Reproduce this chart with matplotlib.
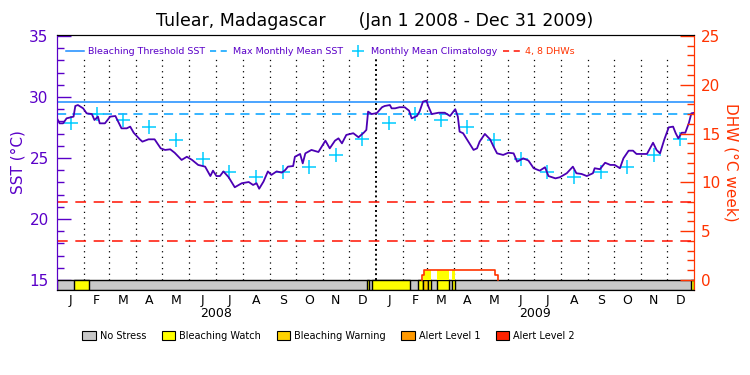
import numpy as np
import matplotlib
matplotlib.use("Agg")
import matplotlib.pyplot as plt
from matplotlib.lines import Line2D
from matplotlib.patches import Patch

# days since 2008-01-01 and daily SST
sst_day = [0, 3, 7, 11, 19, 21, 24, 30, 34, 40, 43, 47, 49, 55, 61, 67, 70, 74, 80, 84,
           88, 95, 98, 105, 112, 119, 124, 130, 135, 143, 149, 155, 162, 170, 176, 179,
           183, 187, 191, 197, 204, 212, 220, 225, 229, 232, 237, 242, 246, 252, 258,
           262, 265, 271, 273, 279, 282, 285, 292, 300, 308, 313, 319, 323, 327, 332,
           340, 346, 352, 355, 357, 361, 367, 373, 376, 382, 384, 388, 393, 399, 404,
           407, 413, 416, 420, 424, 426, 430, 438, 445, 451, 457, 460, 462, 466, 472,
           478, 482, 485, 491, 497, 501, 505, 512, 518, 524, 528, 535, 541, 547, 554,
           560, 564, 572, 577, 585, 592, 596, 602, 608, 615, 617, 623, 629, 635, 640,
           646, 650, 656, 661, 665, 677, 684, 688, 692, 697, 702, 707, 710, 713, 717,
           721, 725, 728, 731]
sst_val = [28.25, 27.84, 27.84, 28.25, 28.39, 29.26, 29.34, 29.07, 28.66, 28.6, 28.11,
           28.39, 27.84, 27.84, 28.39, 28.44, 28.0, 27.43, 27.43, 27.57, 27.07, 26.53,
           26.34, 26.53, 26.53, 25.79, 25.66, 25.71, 25.43, 24.84, 25.1, 24.84, 24.43,
           24.29, 23.52, 23.96, 23.52, 23.52, 23.9, 23.42, 22.6, 22.93, 23.03, 22.79,
           22.93, 22.48, 23.07, 23.9, 23.61, 23.9, 23.8, 24.02, 24.29, 24.34, 25.1,
           25.33, 24.56, 25.38, 25.66, 25.49, 26.42, 25.79, 26.42, 26.61, 26.2, 26.89,
           27.03, 26.7, 27.07, 27.3, 28.8, 28.6, 28.68, 29.16, 29.26, 29.34, 29.07,
           29.07, 29.16, 29.16, 28.88, 28.25, 28.44, 28.8, 29.62, 29.7, 29.26, 28.6,
           28.71, 28.71, 28.44, 29.0, 28.39, 27.16, 27.03, 26.34, 25.66, 25.79, 26.34,
           26.97, 26.53, 25.93, 25.38, 25.25, 25.43, 25.38, 24.7, 24.97, 24.79, 24.16,
           23.96, 24.24, 23.52, 23.33, 23.42, 23.75, 24.29, 23.75, 23.69, 23.52, 23.75,
           24.16, 24.08, 24.61, 24.43, 24.43, 24.16, 24.97, 25.6, 25.6, 25.33, 25.33,
           26.25, 25.66, 25.38, 26.53, 27.51, 27.57, 27.03, 26.61, 27.07, 27.07, 27.84,
           28.66, 28.7]

clim = [27.84, 28.6, 28.08, 27.57, 26.5, 24.89, 23.85, 23.42, 23.85, 24.29, 25.22, 26.58]
mmm = 28.6
threshold = 29.6
dhw_marks = [4, 8]

dhw_day = [419, 419, 421, 503, 506, 506]
dhw_val = [0, 0.5, 1.0, 0.5, 0, 0]

# bleaching alert periods (start day, end day, level)
stress_start = [19.5, 356, 362, 414, 420, 426, 436, 453, 727]
stress_end = [36.7, 358, 405, 420, 426, 429, 450, 457, 731]
stress_level = [1, 1, 1, 1, 2, 1, 1, 1, 1]

level_names = ["No Stress", "Bleaching Watch", "Bleaching Warning", "Alert Level 1", "Alert Level 2"]
level_colors = ["#c8c8c8", "#ffff00", "#ffd200", "#ff9900", "#ff2200"]
month_letters = list("JFMAMJJASOND") * 2
years = ["2008", "2009"]

PURPLE = "#5a00c8"
ORANGE = "#ff3300"

start = np.datetime64("2008-01-01")
month_starts = np.arange(np.datetime64("2008-01"), np.datetime64("2010-01")).astype("datetime64[D]")
mstart = (month_starts - start).astype(int)
mend = np.append(mstart[1:], 731)
mmid = (mstart + mend) / 2

fig = plt.figure(figsize=(7.5, 3.75), dpi=100)
ax = fig.add_axes([57 / 750, 85 / 375, 637 / 750, 255 / 375])
ylo, yhi = 14.18, 35.08
ax.set_xlim(0, 731)
ax.set_ylim(ylo, yhi)

# month separators
for i, d in enumerate(mstart[1:]):
    if i == 11:
        ax.plot([d, d], [15, 33.3], color="black", lw=1.4, ls=(0, (1, 1.5)), zorder=1)
    else:
        ax.plot([d, d], [15, 33.3], color="black", lw=0.9, ls=(0, (1, 3.5)), zorder=1)

ax.axhline(threshold, color="#1a8cff", lw=1.1, zorder=2)
ax.axhline(mmm, color="#00a0ff", lw=1.1, ls=(0, (6, 4)), zorder=2)
ax.plot(sst_day, sst_val, color="#4b00b4", lw=1.3, zorder=4)
ax.plot(mmid, np.tile(clim, 2), ls="none", marker="+", ms=10, mew=1.1, color="#00ccff", zorder=3)

# stress bar
ax.broken_barh([(0, 731)], (ylo, 15 - ylo), facecolors=level_colors[0], edgecolor="black", lw=1, zorder=5)
for s, e, lv in zip(stress_start, stress_end, stress_level):
    ax.broken_barh([(s, e - s)], (ylo, 15 - ylo), facecolors=level_colors[lv], edgecolor="black", lw=1, zorder=6)

# right axis: DHW
ax2 = ax.twinx()
ax2.set_ylim((ylo - 15) * 1.25, (yhi - 15) * 1.25)
for v in dhw_marks:
    ax2.axhline(v, color="#ff1100", lw=1.1, ls=(0, (7, 5)), zorder=2)
ax2.plot(dhw_day, dhw_val, color=ORANGE, lw=1.2, drawstyle="steps-post", zorder=4)
dd = np.array(dhw_day)
dv = np.array(dhw_val)
for s, e, lv in zip(stress_start, stress_end, stress_level):
    lo = max(s, 420)
    hi = min(e, 503)
    if hi > lo:
        xs = np.linspace(lo, hi, 20)
        idx = np.searchsorted(dd, xs, side="right") - 1
        ax2.fill_between(xs, 0, dv[idx], step="post", color="#ffff00", lw=0, zorder=3)

# spines / ticks
ax.spines["left"].set_color(PURPLE)
ax2.spines["left"].set_color(PURPLE)
ax2.spines["right"].set_color(ORANGE)
ax.spines["right"].set_color(ORANGE)
for a in (ax, ax2):
    a.spines["top"].set_color("black")
    a.spines["bottom"].set_color("black")

ax.set_yticks([15, 20, 25, 30, 35])
ax.set_yticks(np.arange(15, 36, 1), minor=True)
ax.tick_params(axis="y", which="major", direction="in", length=10, width=1, colors=PURPLE, labelsize=11, pad=6)
ax.tick_params(axis="y", which="minor", direction="in", length=5, width=1, colors=PURPLE)
ax2.set_yticks([0, 5, 10, 15, 20, 25])
ax2.set_yticks(np.arange(0, 26, 1), minor=True)
ax2.tick_params(axis="y", which="major", direction="in", length=10, width=1, colors=ORANGE, labelsize=11, pad=5)
ax2.tick_params(axis="y", which="minor", direction="in", length=5, width=1, colors=ORANGE)

ax.set_xticks(mmid)
ax.set_xticklabels(month_letters, fontsize=9)
ax.tick_params(axis="x", length=0, pad=3)
for i, y in enumerate(years):
    ax.text((mstart[12 * i] + mend[12 * i + 11]) / 2, -0.065, y, transform=ax.get_xaxis_transform(),
            ha="center", va="top", fontsize=9)

ax.set_ylabel("SST (°C)", color=PURPLE, fontsize=11, va="center")
ax.yaxis.set_label_coords(-0.062, 0.5)
ax2.set_ylabel("DHW (°C week)", color=ORANGE, fontsize=11, rotation=270, va="center")
ax2.yaxis.set_label_coords(1.058, 0.5)

fig.text(0.5, 0.932, "Tulear, Madagascar      (Jan 1 2008 - Dec 31 2009)", ha="center", fontsize=12.5)

handles = [Line2D([], [], color="#1a8cff", lw=1.1),
           Line2D([], [], color="#00a0ff", lw=1.1, ls=(0, (4, 3))),
           Line2D([], [], color="#00ccff", ls="none", marker="+", ms=9, mew=1.1),
           Line2D([], [], color="#ff1100", lw=1.1, ls=(0, (4, 3)))]
labels = ["Bleaching Threshold SST", "Max Monthly Mean SST", "Monthly Mean Climatology", "4, 8 DHWs"]
leg = ax.legend(handles, labels, loc="upper left", bbox_to_anchor=(0.0, 0.985), ncol=4, fontsize=6.8,
                frameon=False, handlelength=2.0, handletextpad=0.35, columnspacing=0.6, borderaxespad=0.5)
for t, c in zip(leg.get_texts(), [PURPLE, PURPLE, PURPLE, ORANGE]):
    t.set_color(c)
leg.set_zorder(10)

patches = [Patch(facecolor=c, edgecolor="black", lw=0.8) for c in level_colors]
fig.legend(patches, level_names, loc="center", bbox_to_anchor=(0.438, 0.104), ncol=5, fontsize=7,
           frameon=False, handlelength=1.4, handleheight=1.1, handletextpad=0.4, columnspacing=1.6)

fig.savefig("out.png", dpi=100)
